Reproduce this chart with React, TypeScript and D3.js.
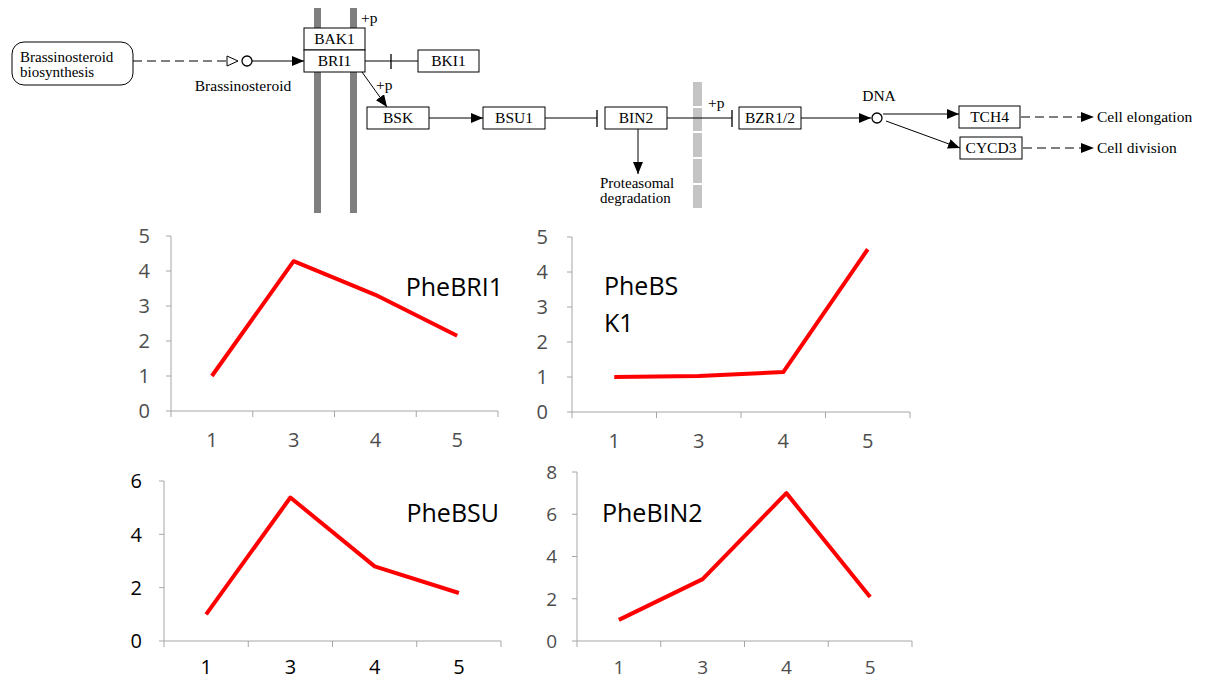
import React from "react";
import * as d3 from "d3";

// ---- Data ----
const categories = ["1", "3", "4", "5"];
const bri1Values = [1.0, 4.28, 3.32, 2.15];
const bsk1Values = [1.0, 1.03, 1.14, 4.65];
const bsuValues = [1.0, 5.38, 2.8, 1.8];
const bin2Values = [1.0, 2.93, 7.0, 2.08];
const bri1Ticks = [0, 1, 2, 3, 4, 5];
const bsk1Ticks = [0, 1, 2, 3, 4, 5];
const bsuTicks = [0, 2, 4, 6];
const bin2Ticks = [0, 2, 4, 6, 8];

const SANS = "'Open Sans', 'Noto Sans', sans-serif";
const SERIF = "'Liberation Serif', 'DejaVu Serif', serif";

type ChartProps = {
  values: number[];
  ticks: number[];
  left: number;
  right: number;
  bottom: number;
  top: number;
  title: string[];
  titleX: number;
  titleY: number;
  titleAnchor: "start" | "end";
  labelColor: string;
  labelSize: number;
  labelGap: number;
  xLabelOffset: number;
};

function LineChart(p: ChartProps) {
  const x = d3.scaleBand<string>().domain(categories).range([p.left, p.right]);
  const y = d3.scaleLinear().domain([0, d3.max(p.ticks)!]).range([p.bottom, p.top]);
  const line = d3
    .line<number>()
    .x((_, i) => x(categories[i])! + x.bandwidth() / 2)
    .y((d) => y(d));
  const boundaries = categories.map((c) => x(c)!).concat([p.right]);
  const axisColor = "#a6a6a6";
  return (
    <g>
      <line x1={p.left} x2={p.left} y1={p.top} y2={p.bottom} stroke={axisColor} strokeWidth={1} />
      {p.ticks.map((t) => (
        <g key={t}>
          <line x1={p.left - 5} x2={p.left} y1={y(t)} y2={y(t)} stroke={axisColor} strokeWidth={1} />
          <text
            x={p.left - p.labelGap}
            y={y(t)}
            dy="0.36em"
            textAnchor="end"
            fontFamily={SANS}
            fontSize={p.labelSize}
            fill={p.labelColor}
          >
            {t}
          </text>
        </g>
      ))}
      <line x1={p.left} x2={p.right} y1={p.bottom} y2={p.bottom} stroke={axisColor} strokeWidth={1} />
      {boundaries.map((b, i) => (
        <line key={i} x1={b} x2={b} y1={p.bottom} y2={p.bottom + 6} stroke={axisColor} strokeWidth={1} />
      ))}
      {categories.map((c) => (
        <text
          key={c}
          x={x(c)! + x.bandwidth() / 2}
          y={p.bottom + p.xLabelOffset}
          textAnchor="middle"
          fontFamily={SANS}
          fontSize={p.labelSize}
          fill={p.labelColor}
        >
          {c}
        </text>
      ))}
      <path d={line(p.values)!} fill="none" stroke="#ff0000" strokeWidth={4} strokeLinejoin="round" />
      {p.title.map((t, i) => (
        <text
          key={i}
          x={p.titleX}
          y={p.titleY + i * 37}
          textAnchor={p.titleAnchor}
          fontFamily={SANS}
          fontSize={25}
          fill="#000"
        >
          {t}
        </text>
      ))}
    </g>
  );
}

function Box({ x, y, w, h, label }: { x: number; y: number; w: number; h: number; label: string }) {
  return (
    <g>
      <rect x={x} y={y} width={w} height={h} fill="#fff" stroke="#000" strokeWidth={1} />
      <text x={x + w / 2} y={y + h / 2 + 5} textAnchor="middle" fontFamily={SERIF} fontSize={15.5} fill="#000">
        {label}
      </text>
    </g>
  );
}

function Pathway() {
  const T = (x: number, y: number, s: string, anchor: "start" | "middle" = "start", size = 15.5) => (
    <text x={x} y={y} textAnchor={anchor} fontFamily={SERIF} fontSize={size} fill="#000">
      {s}
    </text>
  );
  const nuclearSegs = [
    [82, 106],
    [108, 131],
    [133, 157],
    [159, 183],
    [185, 208],
  ];
  return (
    <g>
      <defs>
        <marker id="arr" viewBox="0 0 12 10" refX={12} refY={5} markerWidth={12} markerHeight={10} markerUnits="userSpaceOnUse" orient="auto">
          <path d="M0,0 L12,5 L0,10 Z" fill="#000" />
        </marker>
      </defs>
      {/* membranes */}
      <rect x={314} y={8} width={7} height={205} fill="#7f7f7f" />
      <rect x={350} y={8} width={7} height={205} fill="#7f7f7f" />
      {nuclearSegs.map(([a, b], i) => (
        <rect key={i} x={693} y={a} width={9} height={b - a} fill="#c4c4c4" />
      ))}

      {/* Brassinosteroid biosynthesis */}
      <rect x={12} y={42} width={121} height={43} rx={12} ry={12} fill="#fff" stroke="#000" strokeWidth={1} />
      {T(20, 62, "Brassinosteroid", "start", 15)}
      {T(20, 77, "biosynthesis", "start", 15)}
      <line x1={133} x2={226} y1={61} y2={61} stroke="#000" strokeDasharray="9,5" />
      <path d="M227,56 L238,61 L227,66 Z" fill="#fff" stroke="#000" />
      <circle cx={247} cy={61} r={5} fill="#fff" stroke="#000" strokeWidth={1.3} />
      <line x1={252} x2={304} y1={61} y2={61} stroke="#000" markerEnd="url(#arr)" />
      {T(243, 91, "Brassinosteroid", "middle")}

      {/* receptor complex */}
      <Box x={304} y={28} w={61} h={22} label="BAK1" />
      <Box x={304} y={50} w={61} h={22} label="BRI1" />
      {T(361, 23, "+p")}
      <line x1={365} x2={418} y1={61} y2={61} stroke="#000" />
      <line x1={391} x2={391} y1={54} y2={69} stroke="#000" strokeWidth={1.3} />
      <Box x={418} y={50} w={61} h={22} label="BKI1" />

      <line x1={362} y1={72} x2={387} y2={107} stroke="#000" markerEnd="url(#arr)" />
      {T(376, 90, "+p")}

      <Box x={367} y={107} w={62} h={22} label="BSK" />
      <line x1={429} x2={483} y1={118} y2={118} stroke="#000" markerEnd="url(#arr)" />
      <Box x={483} y={107} w={62} h={22} label="BSU1" />
      <line x1={545} x2={597} y1={118} y2={118} stroke="#000" />
      <line x1={597} x2={597} y1={110} y2={127} stroke="#000" strokeWidth={1.3} />
      <Box x={605} y={107} w={62} h={22} label="BIN2" />
      <line x1={638} x2={638} y1={129} y2={174} stroke="#000" markerEnd="url(#arr)" />
      {T(600, 188, "Proteasomal", "start", 15)}
      {T(600, 203, "degradation", "start", 15)}

      <line x1={667} x2={732} y1={118} y2={118} stroke="#000" />
      <line x1={732} x2={732} y1={110} y2={127} stroke="#000" strokeWidth={1.3} />
      {T(708, 108, "+p")}
      <Box x={739} y={107} w={62} h={22} label="BZR1/2" />
      <line x1={801} x2={871} y1={118} y2={118} stroke="#000" markerEnd="url(#arr)" />
      <circle cx={877} cy={118} r={5} fill="#fff" stroke="#000" strokeWidth={1.3} />
      {T(879, 101, "DNA", "middle")}

      <line x1={883} x2={959} y1={114} y2={114} stroke="#000" markerEnd="url(#arr)" />
      <line x1={886} y1={121} x2={960} y2={148} stroke="#000" markerEnd="url(#arr)" />
      <Box x={959} y={106} w={61} h={22} label="TCH4" />
      <Box x={960} y={137} w={62} h={22} label="CYCD3" />
      <line x1={1021} x2={1082} y1={117} y2={117} stroke="#000" strokeDasharray="9,5" />
      <path d="M1081,112 L1094,117 L1081,122 Z" fill="#000" />
      {T(1097, 122, "Cell elongation")}
      <line x1={1023} x2={1082} y1={148} y2={148} stroke="#000" strokeDasharray="9,5" />
      <path d="M1081,143 L1094,148 L1081,153 Z" fill="#000" />
      {T(1097, 153, "Cell division")}
    </g>
  );
}

export default function App() {
  return (
    <svg
      width={1205}
      height={680}
      viewBox="0 0 1205 680"
      style={{ position: "absolute", left: 0, top: 0, background: "#fff" }}
    >
      <rect width={1205} height={680} fill="#fff" />
      <Pathway />
      <LineChart
        values={bri1Values}
        ticks={bri1Ticks}
        left={171}
        right={498}
        bottom={411}
        top={236}
        title={["PheBRI1"]}
        titleX={503}
        titleY={296}
        titleAnchor="end"
        labelColor="#4d4d4d"
        labelSize={20}
        labelGap={21}
        xLabelOffset={36}
      />
      <LineChart
        values={bsk1Values}
        ticks={bsk1Ticks}
        left={572}
        right={910}
        bottom={412}
        top={237}
        title={["PheBS", "K1"]}
        titleX={604}
        titleY={295}
        titleAnchor="start"
        labelColor="#4d4d4d"
        labelSize={20}
        labelGap={24}
        xLabelOffset={36}
      />
      <LineChart
        values={bsuValues}
        ticks={bsuTicks}
        left={164}
        right={501}
        bottom={641}
        top={481}
        title={["PheBSU"]}
        titleX={499}
        titleY={522}
        titleAnchor="end"
        labelColor="#000"
        labelSize={20}
        labelGap={22}
        xLabelOffset={33}
      />
      <LineChart
        values={bin2Values}
        ticks={bin2Ticks}
        left={577}
        right={912}
        bottom={641}
        top={472}
        title={["PheBIN2"]}
        titleX={602}
        titleY={522}
        titleAnchor="start"
        labelColor="#4d4d4d"
        labelSize={19}
        labelGap={20}
        xLabelOffset={33}
      />
    </svg>
  );
}
